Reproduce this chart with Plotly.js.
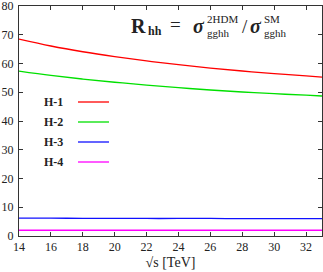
<!DOCTYPE html>
<html>
<head>
<meta charset="utf-8">
<script src="https://cdn.plot.ly/plotly-3.0.1.min.js"></script>
<style>html,body{margin:0;padding:0;background:#fff;}#chart{width:323px;height:272px;}</style>
</head>
<body>
<div id="chart"></div>
<script>
var sqrtS = [14, 16, 18, 20, 22, 24, 26, 28, 30, 32, 33];
var h1 = [68.5, 66.1, 64.1, 62.4, 60.9, 59.6, 58.4, 57.4, 56.5, 55.7, 55.3];
var h2 = [57.4, 55.9, 54.6, 53.5, 52.5, 51.6, 50.8, 50.1, 49.5, 49.0, 48.7];
var h3 = [6.2, 6.2, 6.15, 6.15, 6.1, 6.1, 6.1, 6.05, 6.05, 6.05, 6.05];
var h4 = [2.0, 2.0, 2.0, 2.0, 2.0, 2.0, 2.0, 2.0, 2.0, 2.0, 2.0];
var seriesNames = ["H-1", "H-2", "H-3", "H-4"];
var seriesColors = ["#ff0000", "#00e000", "#1010ff", "#ff00ff"];
var xTicks = [14, 16, 18, 20, 22, 24, 26, 28, 30, 32];
var yTicks = [0, 10, 20, 30, 40, 50, 60, 70, 80];

var font = "Liberation Serif";
var ys = [h1, h2, h3, h4];
var traces = ys.map(function (y, i) {
  return {x: sqrtS, y: y, name: seriesNames[i], mode: "lines", line: {color: seriesColors[i], width: 1.3, shape: "spline"}, showlegend: false};
});

// pixel -> paper helpers (plot area: x 19..322, y 6..236)
function px(x) { return (x - 19) / 303; }
function py(y) { return (236 - y) / 230; }

var annotations = [];
var shapes = [];
var legY = [102, 122, 142, 162];
seriesNames.forEach(function (n, i) {
  annotations.push({xref: "paper", yref: "paper", x: px(42), y: py(legY[i]), xanchor: "left", yanchor: "middle",
    text: "<b>" + n + "</b>", showarrow: false, font: {family: font, size: 12, color: "#222"}});
  shapes.push({type: "line", xref: "paper", yref: "paper", x0: px(78), x1: px(109), y0: py(legY[i]), y1: py(legY[i]),
    line: {color: seriesColors[i], width: 1.3}});
});

function ann(text, x, y, size, anchor) {
  annotations.push({xref: "paper", yref: "paper", x: px(x), y: py(y), xanchor: anchor || "left", yanchor: "middle",
    text: text, showarrow: false, align: "left", font: {family: font, size: size, color: "#222"}});
}
ann("<b>R</b>", 129, 26, 20);
ann("<b>hh</b>", 146, 31, 12);
ann("=", 168, 25, 19);
ann("<b><i>σ</i></b>", 191, 26, 20);
ann("2HDM<br>gghh", 205, 26, 11);
ann("/", 240, 26, 19);
ann("<b><i>σ</i></b>", 248, 26, 20);
ann("SM<br>gghh", 262, 26, 11);

var layout = {
  width: 323, height: 272,
  margin: {l: 19, r: 1, t: 6, b: 36},
  paper_bgcolor: "#fff", plot_bgcolor: "#fff",
  showlegend: false,
  font: {family: font, size: 12, color: "#222"},
  xaxis: {range: [14, 33], tickvals: xTicks, ticktext: xTicks.map(String), ticks: "inside", ticklen: 4, tickcolor: "#333",
    showline: true, linecolor: "#333", linewidth: 1, mirror: "ticks", showgrid: false, zeroline: false,
    tickfont: {family: font, size: 12, color: "#222"},
    title: {text: "√s [TeV]", font: {family: font, size: 14, color: "#222"}, standoff: 3}},
  yaxis: {range: [0, 80.02], tickvals: yTicks, ticktext: yTicks.map(String), ticks: "inside", ticklen: 4, tickcolor: "#333",
    showline: true, linecolor: "#333", linewidth: 1, mirror: "ticks", showgrid: false, zeroline: false,
    ticklabeloverflow: "allow",
    tickfont: {family: font, size: 12, color: "#222"}, ticklabelstandoff: 2},
  annotations: annotations,
  shapes: shapes
};
Plotly.newPlot("chart", traces, layout, {staticPlot: true, displayModeBar: false});
</script>
</body>
</html>
